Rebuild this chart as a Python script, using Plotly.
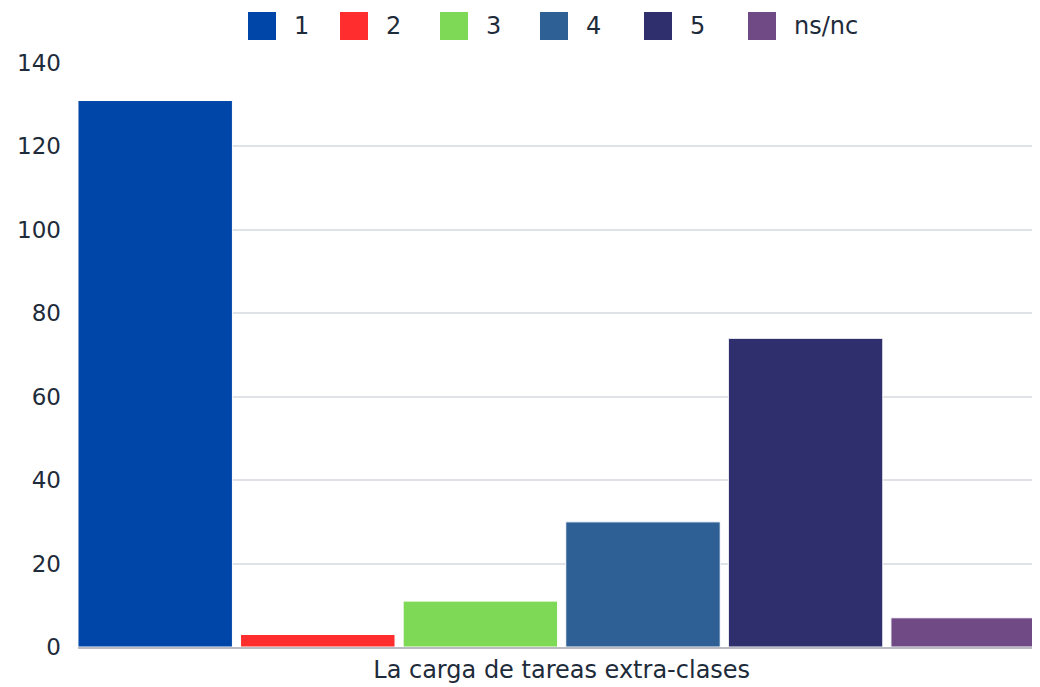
import plotly.graph_objects as go

category = ["La carga de tareas extra-clases"]
series_names = ["1", "2", "3", "4", "5", "ns/nc"]
series_values = [131, 3, 11, 30, 74, 7]
colors = ["#0046a8", "#ff2d2d", "#7ed957", "#2e5f95", "#2e2f6c", "#6f4a85"]

# legend swatch left edges, in pixels from the left of the figure
legend_px = [240, 332, 432, 532, 636, 740]

# the page body adds an 8px margin around the figure
W, H = 1024, 679
L, R, T, B = 70, 0, 55, 40
plot_w = W - L - R
plot_h = H - T - B

fig = go.Figure()

for name, value, color in zip(series_names, series_values, colors):
    fig.add_trace(
        go.Bar(
            x=category,
            y=[value],
            name=name,
            marker=dict(color=color, line=dict(color="white", width=1)),
            showlegend=False,
        )
    )

text_color = "#1e2b3a"

# custom legend with big square swatches
for name, color, px in zip(series_names, colors, legend_px):
    fig.add_shape(
        type="rect",
        xref="paper",
        yref="paper",
        x0=(px - L) / plot_w,
        x1=(px + 28 - L) / plot_w,
        y0=(H - B - 32) / plot_h,
        y1=(H - B - 4) / plot_h,
        fillcolor=color,
        line=dict(color=color, width=0),
    )
    fig.add_annotation(
        xref="paper",
        yref="paper",
        x=(px + 44 - L) / plot_w,
        y=(H - B - 18) / plot_h,
        text=name,
        showarrow=False,
        xanchor="left",
        yanchor="middle",
        font=dict(size=24, color=text_color),
    )

fig.update_layout(
    width=W,
    height=H,
    margin=dict(l=L, r=R, t=T, b=B),
    barmode="group",
    bargap=0,
    bargroupgap=0.05,
    plot_bgcolor="white",
    paper_bgcolor="white",
    font=dict(family="DejaVu Sans", color=text_color, size=22),
    showlegend=False,
)

fig.update_xaxes(
    range=[-0.4958, 0.4821],
    showline=True,
    linecolor="#b8bcc2",
    linewidth=2,
    tickfont=dict(size=24),
    ticks="",
    automargin=False,
)
fig.update_yaxes(
    range=[0, 140],
    dtick=20,
    showgrid=True,
    gridcolor="#dfe2e6",
    gridwidth=2,
    zeroline=False,
    tickfont=dict(size=23),
    ticklabelstandoff=16,
    automargin=False,
)

fig.write_html("out.html")
